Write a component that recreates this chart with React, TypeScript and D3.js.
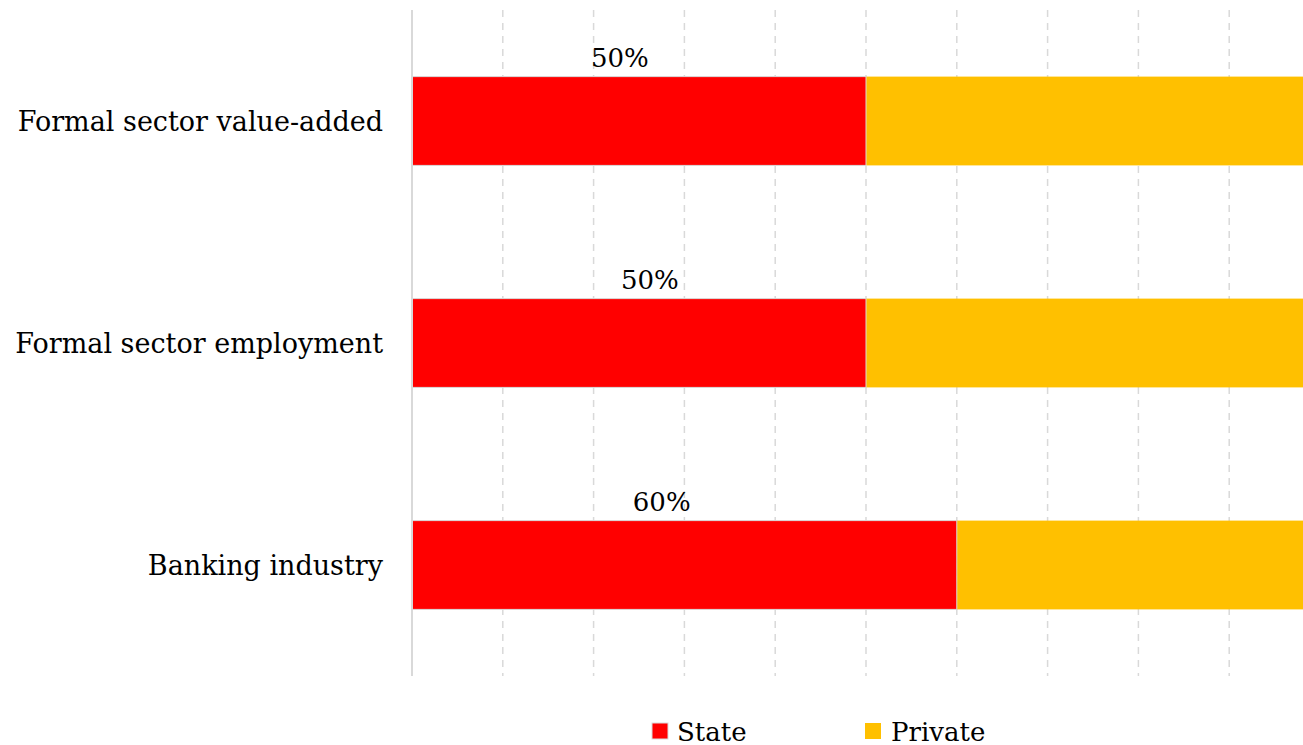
import React from "react";
import * as d3 from "d3";

const categories = ["Formal sector value-added", "Formal sector employment", "Banking industry"];
const stateShare = [50, 50, 60];
const privateShare = [50, 50, 40];
const valueLabels = ["50%", "50%", "60%"];
// where each data label sits, in percent units along the axis
const labelAt = [22.9, 26.2, 27.5];
const xTicks = d3.range(0, 101, 10);
const seriesNames = ["State", "Private"];
const seriesColors = ["#FF0000", "#FFC000"];

const W = 1303;
const H = 745;
const FONT = "'DejaVu Serif', 'Liberation Serif', serif";

export default function App() {
  const x = d3.scaleLinear().domain([0, 100]).range([412, 1320]);
  const y = d3.scaleBand<string>().domain(categories).range([10, 676]).paddingInner(0.6).paddingOuter(0.3);

  return (
    <svg width={W} height={H} style={{ position: "absolute", left: 0, top: 0, background: "#fff" }}>
      {xTicks.slice(1).map((t) => (
        <line key={t} x1={x(t)} x2={x(t)} y1={10} y2={676} stroke="#D9D9D9" strokeWidth={1.5} strokeDasharray="7,6" />
      ))}
      {categories.map((c, i) => {
        const y0 = y(c)!;
        const bh = y.bandwidth();
        return (
          <g key={c}>
            <rect x={x(stateShare[i])} y={y0} width={x(stateShare[i] + privateShare[i]) - x(stateShare[i])} height={bh} fill={seriesColors[1]} />
            <rect x={x(0)} y={y0} width={x(stateShare[i]) - x(0)} height={bh} fill={seriesColors[0]} stroke="#D9D9D9" strokeWidth={1} />
            <text x={x(labelAt[i])} y={y0 - 10} textAnchor="middle" fontFamily={FONT} fontSize={26} fill="#000">
              {valueLabels[i]}
            </text>
            <text x={383} y={y0 + bh / 2} dy="0.38em" textAnchor="end" fontFamily={FONT} fontSize={27} fill="#000">
              {c}
            </text>
          </g>
        );
      })}
      <line x1={x(0)} x2={x(0)} y1={10} y2={676} stroke="#D9D9D9" strokeWidth={2} />
      <g>
        <rect x={652} y={723} width={16} height={16} fill={seriesColors[0]} stroke="#D9D9D9" strokeWidth={1} />
        <text x={677} y={741} fontFamily={FONT} fontSize={26} fill="#000">{seriesNames[0]}</text>
        <rect x={865} y={723} width={16} height={16} fill={seriesColors[1]} />
        <text x={891} y={741} fontFamily={FONT} fontSize={26} fill="#000">{seriesNames[1]}</text>
      </g>
    </svg>
  );
}
